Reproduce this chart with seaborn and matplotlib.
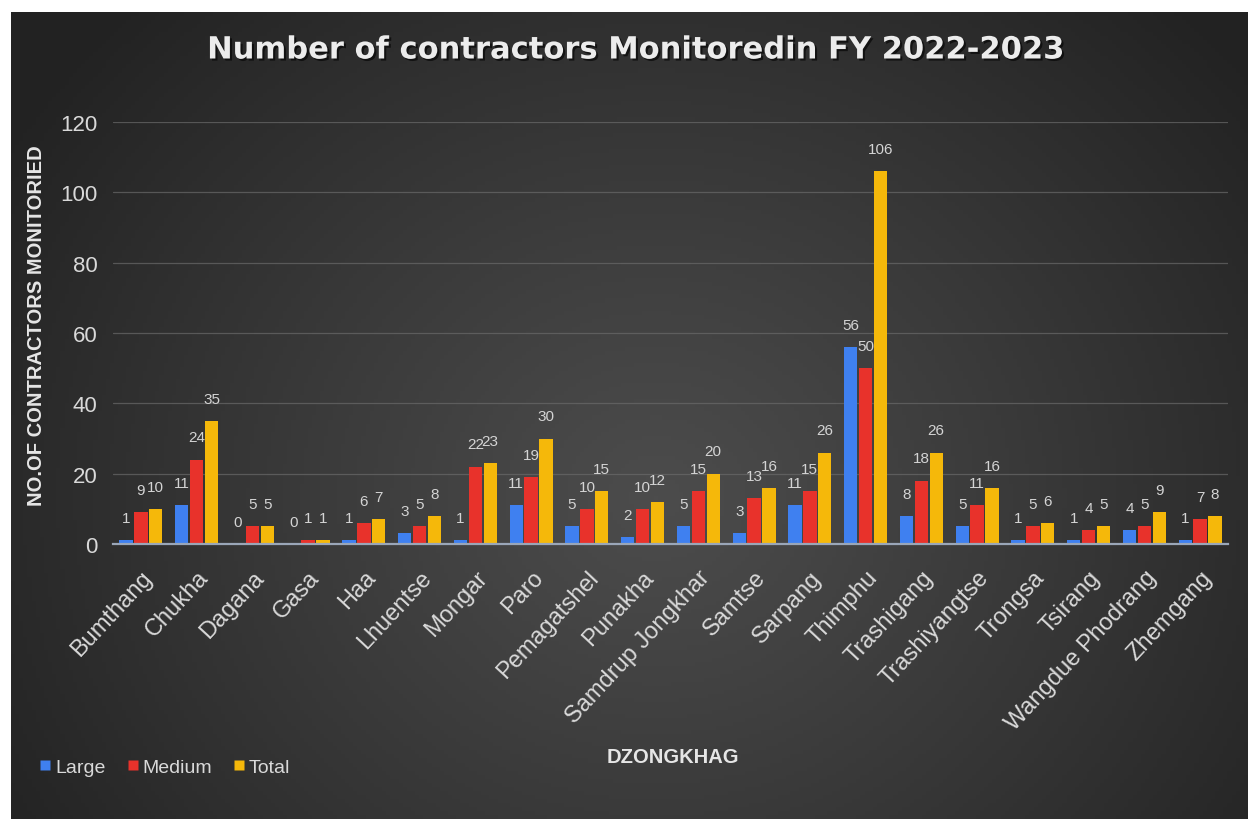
import numpy as np
import pandas as pd
import matplotlib
matplotlib.use("Agg")
import matplotlib.pyplot as plt
import matplotlib.patheffects as pe
from matplotlib.lines import Line2D
import seaborn as sns

categories = ["Bumthang", "Chukha", "Dagana", "Gasa", "Haa", "Lhuentse", "Mongar",
              "Paro", "Pemagatshel", "Punakha", "Samdrup Jongkhar", "Samtse",
              "Sarpang", "Thimphu", "Trashigang", "Trashiyangtse", "Trongsa",
              "Tsirang", "Wangdue Phodrang", "Zhemgang"]
large = [1, 11, 0, 0, 1, 3, 1, 11, 5, 2, 5, 3, 11, 56, 8, 5, 1, 1, 4, 1]
medium = [9, 24, 5, 1, 6, 5, 22, 19, 10, 10, 15, 13, 15, 50, 18, 11, 5, 4, 5, 7]
total = [10, 35, 5, 1, 7, 8, 23, 30, 15, 12, 20, 16, 26, 106, 26, 16, 6, 5, 9, 8]
series_names = ["Large", "Medium", "Total"]
y_ticks = [0, 20, 40, 60, 80, 100, 120]

colors = {"Large": "#3f80f0", "Medium": "#e8322b", "Total": "#f5b80a"}
txt = "#d9d9d9"

df = pd.DataFrame({"Dzongkhag": categories, "Large": large, "Medium": medium, "Total": total})
long = df.melt(id_vars="Dzongkhag", value_vars=series_names, var_name="Type", value_name="Count")

sns.set_theme(style="dark")
plt.rcParams["font.family"] = ["Liberation Sans", "DejaVu Sans"]

W, H = 1248, 820
fig = plt.figure(figsize=(W / 100, H / 100), dpi=100, facecolor="white")

# background panel with radial gradient
bx0, by1 = 11 / W, 13 / H
bg = fig.add_axes([bx0, 0, 1 - bx0, 1 - by1], zorder=0)
gh, gw = 200, 300
yy, xx = np.mgrid[0:gh, 0:gw]
cx, cy = gw * 0.52, gh * 0.60
r = np.sqrt(((xx - cx) / (gw * 0.62)) ** 2 + ((yy - cy) / (gh * 0.85)) ** 2)
r = np.clip(r, 0, 1)
c_in, c_out = 0x4c / 255, 0x22 / 255
val = c_in + (c_out - c_in) * r ** 1.1
img = np.dstack([val, val, val])
bg.imshow(img, aspect="auto", extent=[0, 1, 0, 1], origin="upper")
bg.set_axis_off()

ax = fig.add_axes([113 / W, 1 - 545 / H, (1228 - 113) / W, (545 - 123) / H], zorder=1)
ax.patch.set_alpha(0)

sns.barplot(data=long, x="Dzongkhag", y="Count", hue="Type", hue_order=series_names,
            palette=colors, width=0.8, gap=0.1, saturation=1, ax=ax, legend=False,
            edgecolor="none")

for cont in ax.containers:
    for bar in cont:
        h = bar.get_height()
        ax.annotate(f"{int(round(h))}", (bar.get_x() + bar.get_width() / 2, h),
                    xytext=(0, 16), textcoords="offset points", ha="center", va="center",
                    fontsize=11, color="#d4d4d4")

ax.set_ylim(0, 120)
ax.set_xlim(-0.5, len(categories) - 0.5)
ax.set_yticks(y_ticks)
ax.set_yticklabels([str(t) for t in y_ticks], fontsize=16, color=txt)
ax.tick_params(axis="y", length=0, pad=11)
ax.tick_params(axis="x", length=0, pad=16)
ax.set_xticks(range(len(categories)))
ax.set_xticklabels(categories, rotation=47, ha="right", rotation_mode="anchor",
                   fontsize=17, color=txt)
ax.set_xlabel("")
ax.set_ylabel("")
ax.grid(axis="y", color="#6a6a6a", linewidth=0.9, alpha=0.7)
ax.grid(axis="x", visible=False)
for s in ["top", "right", "left"]:
    ax.spines[s].set_visible(False)
ax.spines["bottom"].set_color("#9aa6b8")
ax.spines["bottom"].set_linewidth(1.6)

fig.text(634 / W, 1 - 51 / H, "Number of contractors Monitoredin FY 2022-2023",
         ha="center", va="center", fontsize=22, fontweight="bold", color="#ececec",
         family=["DejaVu Sans"],
         path_effects=[pe.withSimplePatchShadow(offset=(1.5, -1.5), shadow_rgbFace="black", alpha=0.6)])
fig.text(37 / W, 1 - 326 / H, "NO.OF CONTRACTORS MONITORIED", rotation=90,
         ha="center", va="center", fontsize=14.5, fontweight="bold", color="#e6e6e6")
fig.text(673 / W, 1 - 758 / H, "DZONGKHAG", ha="center", va="center",
         fontsize=14.5, fontweight="bold", color="#e6e6e6")

handles = [Line2D([0], [0], marker="s", linestyle="none", markersize=7,
                  markerfacecolor=colors[n], markeredgecolor="none") for n in series_names]
leg = fig.legend(handles, series_names, loc="center left", bbox_to_anchor=(20 / W, 1 - 768 / H),
                 ncol=3, frameon=False, fontsize=14, handletextpad=0.1,
                 columnspacing=1.0, handlelength=0.8, labelcolor=txt)

fig.savefig("out.png", dpi=100, facecolor="white")
